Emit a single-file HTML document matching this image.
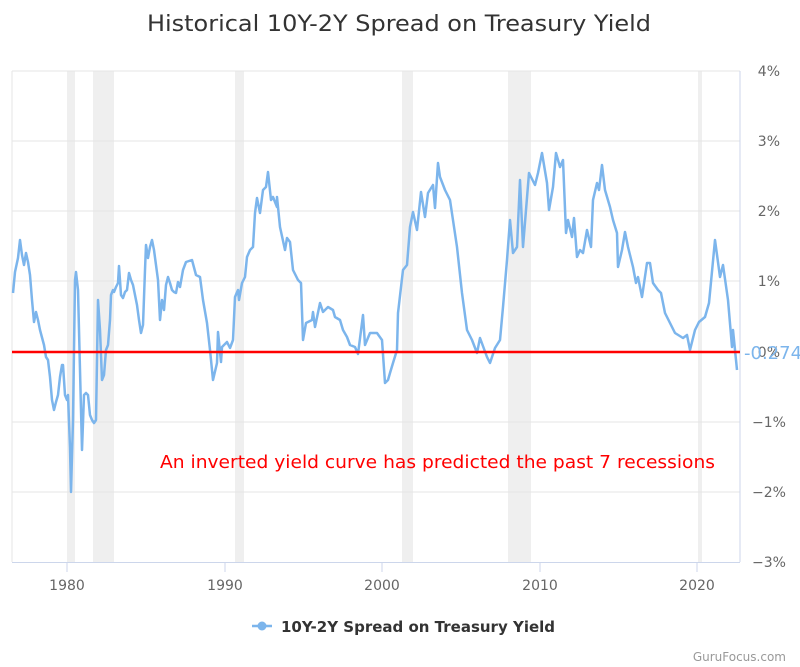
<!DOCTYPE html>
<html><head><meta charset="utf-8"><style>
body{margin:0;background:#fff;}
svg{display:block;font-family:"DejaVu Sans","Liberation Sans",sans-serif;}
</style></head><body>
<svg width="800" height="667" xmlns="http://www.w3.org/2000/svg">
<rect width="800" height="667" fill="#fff"/>
<text x="147" y="31" textLength="504" lengthAdjust="spacingAndGlyphs" font-size="22" fill="#333">Historical 10Y-2Y Spread on Treasury Yield</text>
<g fill="#efefef">
<rect x="67" y="71" width="8" height="491"/>
<rect x="93" y="71" width="21" height="491"/>
<rect x="235" y="71" width="9" height="491"/>
<rect x="402" y="71" width="11" height="491"/>
<rect x="508" y="71" width="23" height="491"/>
<rect x="698" y="71" width="4" height="491"/>
</g>
<g stroke="#e6e6e6" stroke-width="1">
<line x1="12" y1="71" x2="740" y2="71"/>
<line x1="12" y1="141" x2="740" y2="141"/>
<line x1="12" y1="211" x2="740" y2="211"/>
<line x1="12" y1="281" x2="740" y2="281"/>
<line x1="12" y1="422" x2="740" y2="422"/>
<line x1="12" y1="492" x2="740" y2="492"/>
<line x1="12" y1="71" x2="12" y2="562"/>
</g>
<line x1="740" y1="71" x2="740" y2="562" stroke="#ccd6eb"/>
<line x1="12" y1="562.5" x2="740" y2="562.5" stroke="#ccd6eb"/>
<g stroke="#ccd6eb"><line x1="67" y1="562" x2="67" y2="572"/><line x1="225" y1="562" x2="225" y2="572"/><line x1="382" y1="562" x2="382" y2="572"/><line x1="540" y1="562" x2="540" y2="572"/><line x1="697" y1="562" x2="697" y2="572"/></g>
<g font-size="14" fill="#666" text-anchor="middle">
<text x="67" y="590">1980</text><text x="225" y="590">1990</text><text x="382" y="590">2000</text><text x="540" y="590">2010</text><text x="697" y="590">2020</text>
</g>
<g font-size="14" fill="#666" text-anchor="end">
<text x="780" y="76">4%</text><text x="780" y="146">3%</text><text x="780" y="216">2%</text><text x="780" y="286">1%</text><text x="780" y="357">0%</text><text x="786" y="427">−1%</text><text x="786" y="497">−2%</text><text x="786" y="567">−3%</text>
</g>
<polyline fill="none" stroke="#7cb5ec" stroke-width="2.5" stroke-linejoin="round" points="13,293 15,272 18,258 20,240 22,255 24,265 26,253 28,262 30,275 32,300 34,322 36,312 38,320 40,330 44,345 46,357 48,360 50,377 52,400 54,410 56,402 58,395 60,377 62,365 63,365 65,395 67,400 68,395 70,448 71,492 73,420 75,280 76,272 78,290 80,370 82,450 84,395 86,393 88,395 90,415 92,420 94,423 96,420 98,300 100,330 102,380 104,375 106,350 108,345 110,320 111,295 113,290 114,292 116,287 118,283 119,266 121,295 123,298 125,292 127,290 129,273 131,280 133,285 135,295 137,305 139,320 141,333 143,325 145,270 146,245 148,258 150,247 152,240 154,250 156,265 158,280 160,320 162,300 164,310 166,285 168,277 170,283 172,290 174,292 176,293 178,282 180,287 183,270 186,262 192,260 196,275 200,277 203,300 207,323 210,350 213,380 217,363 218,332 221,362 222,347 227,342 230,348 233,340 235,297 238,290 239,300 242,283 245,277 247,257 250,250 253,247 255,213 257,198 260,213 263,190 266,187 268,172 271,200 273,197 277,207 277,197 280,227 285,250 287,238 290,242 293,270 298,280 301,283 303,340 306,323 312,320 313,312 315,327 320,303 323,312 328,307 333,310 335,317 340,320 343,330 347,337 350,345 355,347 358,354 363,315 365,345 370,333 377,333 382,340 385,383 388,380 390,373 393,363 397,350 398,313 403,270 407,265 410,227 413,212 417,230 421,192 425,217 428,193 433,185 435,208 438,163 440,177 445,190 450,200 457,247 462,293 467,330 472,340 477,353 480,338 487,357 490,363 495,348 500,340 503,307 507,260 510,220 513,253 517,247 520,180 523,247 526,210 529,173 535,185 538,173 542,153 547,183 549,210 553,187 556,153 560,167 563,160 566,233 568,220 572,237 574,218 577,257 580,250 583,253 587,230 591,247 593,200 597,183 599,190 602,165 605,190 610,207 613,220 617,233 618,267 622,250 625,232 628,247 633,267 636,283 638,277 642,297 647,263 650,263 653,283 658,290 661,293 665,313 670,323 675,333 683,338 687,335 690,350 695,330 699,322 705,317 709,303 715,240 720,277 723,265 728,300 732,347 733,330 737,370"/>
<line x1="12" y1="352" x2="740" y2="352" stroke="#ff0000" stroke-width="2.5"/>
<text x="744" y="359" font-size="18" fill="#7cb5ec">-0.274</text>
<text x="160" y="468" textLength="555" lengthAdjust="spacingAndGlyphs" font-size="18" fill="#ff0000">An inverted yield curve has predicted the past 7 recessions</text>
<line x1="252" y1="626" x2="272" y2="626" stroke="#7cb5ec" stroke-width="2.5"/>
<circle cx="262" cy="626" r="4.5" fill="#7cb5ec"/>
<text x="281" y="632" font-size="15" font-weight="bold" fill="#333">10Y-2Y Spread on Treasury Yield</text>
<text x="786" y="661" font-size="12" fill="#999" text-anchor="end">GuruFocus.com</text>
</svg>
</body></html>
